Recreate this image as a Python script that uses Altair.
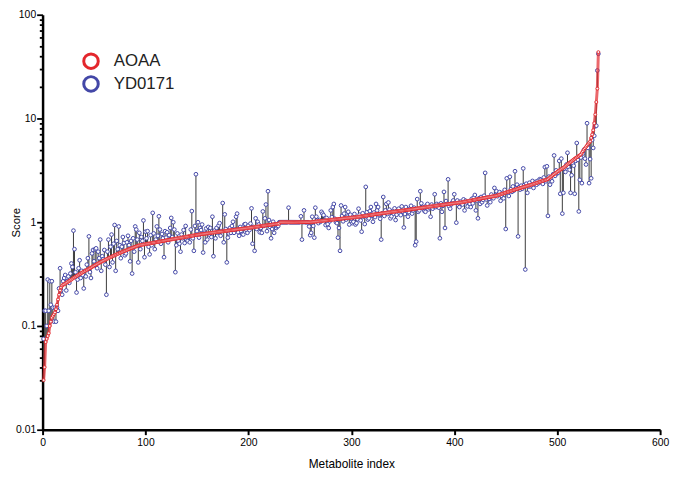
import altair as alt
import pandas as pd

# AOAA scores (sorted), one per metabolite index 1..540
aoaa = [
    0.03, 0.04, 0.07, 0.075, 0.08, 0.085, 0.10, 0.11, 0.12, 0.125, 0.13, 0.135, 0.145, 0.16, 0.18, 0.20, 0.22, 0.235, 0.245, 0.25,
    0.252, 0.256, 0.26, 0.264, 0.268, 0.272, 0.276, 0.28, 0.285, 0.29, 0.294, 0.298, 0.303, 0.307, 0.312, 0.316, 0.32, 0.325, 0.329, 0.334,
    0.338, 0.343, 0.347, 0.351, 0.356, 0.36, 0.365, 0.37, 0.375, 0.38, 0.385, 0.39, 0.395, 0.40, 0.405, 0.41, 0.415, 0.42, 0.425, 0.43,
    0.435, 0.44, 0.445, 0.45, 0.455, 0.46, 0.465, 0.47, 0.475, 0.48, 0.485, 0.49, 0.495, 0.50, 0.505, 0.51, 0.515, 0.52, 0.525, 0.53,
    0.535, 0.54, 0.545, 0.55, 0.555, 0.56, 0.565, 0.57, 0.575, 0.58, 0.585, 0.59, 0.595, 0.60, 0.602, 0.605, 0.607, 0.61, 0.612, 0.615,
    0.617, 0.62, 0.622, 0.625, 0.627, 0.63, 0.632, 0.635, 0.637, 0.64, 0.643, 0.646, 0.648, 0.651, 0.654, 0.657, 0.66, 0.662, 0.665, 0.668,
    0.671, 0.674, 0.676, 0.679, 0.682, 0.685, 0.688, 0.69, 0.693, 0.696, 0.699, 0.702, 0.704, 0.707, 0.71, 0.713, 0.716, 0.719, 0.722, 0.725,
    0.728, 0.731, 0.734, 0.737, 0.74, 0.743, 0.746, 0.749, 0.752, 0.755, 0.758, 0.76, 0.762, 0.765, 0.767, 0.77, 0.772, 0.775, 0.777, 0.78,
    0.782, 0.785, 0.787, 0.79, 0.792, 0.795, 0.797, 0.80, 0.802, 0.805, 0.807, 0.81, 0.812, 0.815, 0.817, 0.82, 0.822, 0.825, 0.827, 0.83,
    0.832, 0.835, 0.837, 0.84, 0.842, 0.845, 0.847, 0.85, 0.852, 0.855, 0.857, 0.86, 0.862, 0.865, 0.867, 0.87, 0.872, 0.875, 0.877, 0.88,
    0.883, 0.886, 0.889, 0.892, 0.895, 0.898, 0.901, 0.904, 0.907, 0.91, 0.913, 0.916, 0.919, 0.922, 0.925, 0.928, 0.931, 0.934, 0.937, 0.94,
    0.943, 0.946, 0.949, 0.952, 0.955, 0.958, 0.961, 0.964, 0.967, 0.97, 1, 1, 1, 1, 1, 1, 1, 1, 1, 1,
    1, 1, 1, 1, 1, 1, 1, 1, 1, 1, 1, 1, 1, 1, 1, 1, 1, 1, 1, 1,
    1.003, 1.005, 1.008, 1.011, 1.013, 1.016, 1.019, 1.021, 1.024, 1.027, 1.029, 1.032, 1.035, 1.037, 1.04, 1.043, 1.045, 1.048, 1.051, 1.053,
    1.056, 1.059, 1.061, 1.064, 1.067, 1.069, 1.072, 1.075, 1.077, 1.08, 1.083, 1.085, 1.088, 1.091, 1.093, 1.096, 1.099, 1.101, 1.104, 1.107,
    1.109, 1.112, 1.115, 1.117, 1.12, 1.124, 1.128, 1.132, 1.136, 1.14, 1.144, 1.147, 1.151, 1.155, 1.159, 1.163, 1.167, 1.171, 1.175, 1.179,
    1.183, 1.187, 1.191, 1.195, 1.199, 1.203, 1.206, 1.21, 1.214, 1.218, 1.222, 1.226, 1.23, 1.234, 1.238, 1.242, 1.246, 1.25, 1.254, 1.258,
    1.261, 1.265, 1.269, 1.273, 1.277, 1.281, 1.285, 1.289, 1.293, 1.297, 1.301, 1.305, 1.309, 1.313, 1.316, 1.32, 1.325, 1.329, 1.334, 1.338,
    1.343, 1.348, 1.352, 1.357, 1.362, 1.366, 1.371, 1.375, 1.38, 1.385, 1.389, 1.394, 1.398, 1.403, 1.408, 1.412, 1.417, 1.422, 1.426, 1.431,
    1.435, 1.44, 1.445, 1.449, 1.454, 1.458, 1.463, 1.468, 1.472, 1.477, 1.482, 1.486, 1.491, 1.495, 1.5, 1.505, 1.509, 1.514, 1.518, 1.523,
    1.528, 1.532, 1.537, 1.542, 1.546, 1.551, 1.555, 1.56, 1.567, 1.575, 1.582, 1.589, 1.596, 1.604, 1.611, 1.618, 1.625, 1.633, 1.64, 1.647,
    1.655, 1.662, 1.669, 1.676, 1.684, 1.691, 1.698, 1.705, 1.713, 1.72, 1.727, 1.735, 1.742, 1.749, 1.756, 1.764, 1.771, 1.778, 1.785, 1.793,
    1.80, 1.814, 1.829, 1.843, 1.858, 1.872, 1.887, 1.901, 1.916, 1.93, 1.944, 1.959, 1.973, 1.988, 2.002, 2.017, 2.031, 2.046, 2.06, 2.075,
    2.09, 2.105, 2.12, 2.135, 2.15, 2.165, 2.18, 2.195, 2.21, 2.225, 2.24, 2.255, 2.27, 2.285, 2.30, 2.319, 2.338, 2.356, 2.375, 2.394,
    2.413, 2.431, 2.45, 2.469, 2.488, 2.506, 2.525, 2.544, 2.563, 2.581, 2.60, 2.65, 2.70, 2.75, 2.80, 2.85, 2.90, 2.95, 3.0, 3.05,
    3.1, 3.15, 3.2, 3.25, 3.3, 3.35, 3.4, 3.47, 3.54, 3.61, 3.68, 3.74, 3.81, 3.88, 3.95, 4.02, 4.09, 4.16, 4.23, 4.29,
    4.36, 4.43, 4.5, 4.67, 4.83, 5.0, 5.17, 5.33, 5.5, 5.67, 5.83, 6.0, 6.5, 7.0, 7.7, 9.0, 10.9, 14.4, 19.4, 43.6,
]

# YD0171 scores for the same metabolites
yd0171 = [
    0.075, 0.14, 0.14, 0.10, 0.28, 0.14, 0.27, 0.16, 0.27, 0.15, 0.11, 0.15, 0.11, 0.15, 0.14, 0.23, 0.36, 0.22, 0.20, 0.27,
    0.29, 0.31, 0.22, 0.27, 0.30, 0.26, 0.32, 0.40, 0.37, 0.83, 0.55, 0.33, 0.21, 0.28, 0.36, 0.43, 0.29, 0.34, 0.31, 0.23,
    0.34, 0.30, 0.39, 0.45, 0.73, 0.33, 0.29, 0.50, 0.54, 0.42, 0.55, 0.56, 0.36, 0.52, 0.45, 0.68, 0.34, 0.47, 0.44, 0.54,
    0.39, 0.20, 0.52, 0.68, 0.37, 0.58, 0.76, 0.41, 0.62, 0.94, 0.34, 0.66, 0.55, 0.91, 0.60, 0.45, 0.58, 0.72, 0.63, 0.48,
    0.50, 0.64, 0.74, 0.60, 0.42, 0.66, 0.32, 0.70, 0.52, 0.91, 0.85, 0.68, 0.41, 0.79, 0.55, 0.72, 0.66, 1.04, 0.46, 0.81,
    0.70, 0.82, 0.58, 0.49, 0.75, 0.60, 1.23, 0.78, 0.55, 0.68, 0.91, 0.74, 1.14, 0.85, 0.62, 0.77, 0.70, 0.46, 0.82, 0.71,
    0.80, 0.64, 0.75, 0.88, 1.10, 0.72, 1.00, 0.85, 0.33, 0.60, 0.78, 0.66, 0.62, 0.52, 0.76, 0.70, 0.84, 0.63, 0.92, 0.68,
    0.66, 0.72, 0.64, 0.85, 1.28, 0.70, 0.53, 0.92, 2.9, 0.82, 1.0, 0.71, 0.88, 0.84, 0.95, 0.51, 0.79, 0.64, 0.87, 0.68,
    0.90, 0.76, 0.88, 0.72, 1.13, 0.47, 0.83, 0.70, 0.88, 0.79, 0.93, 0.98, 0.74, 0.82, 1.53, 0.64, 1.19, 0.86, 0.41, 0.71,
    0.78, 0.88, 0.79, 0.92, 1.01, 0.79, 0.85, 1.13, 1.21, 0.80, 0.74, 0.90, 0.82, 0.77, 0.76, 0.95, 0.96, 0.84, 0.79, 0.93,
    0.84, 0.97, 1.36, 0.62, 0.90, 0.53, 1.09, 0.86, 1.01, 0.95, 0.80, 0.88, 0.79, 1.27, 0.92, 1.09, 1.48, 0.82, 1.99, 1.05,
    0.90, 0.70, 0.86, 1.01, 0.79, 0.95, 0.88, 0.91, 0.92, 1, 1, 1, 1, 1, 1, 1, 1, 1, 1.38, 1,
    1, 1, 1, 1, 1, 1, 1, 1, 1, 1, 1.14, 0.68, 1, 1.30, 1, 1, 1, 1, 0.91, 0.75,
    0.79, 1.13, 0.92, 0.71, 1.38, 1.13, 1.05, 0.98, 1.05, 1.01, 1.26, 1.21, 1.17, 1.05, 0.94, 1.10, 0.96, 0.88, 1.02, 1.30,
    1.12, 1.40, 1.50, 1.08, 1.00, 0.98, 0.71, 0.88, 0.53, 1.45, 1.15, 1.02, 1.21, 1.40, 1.06, 1.13, 1.26, 0.95, 1.18, 1.08,
    0.98, 1.01, 1.20, 0.95, 0.98, 1.07, 1.35, 1.18, 1.04, 0.81, 1.22, 1.13, 0.96, 2.19, 1.25, 1.06, 1.09, 1.28, 1.40, 1.15,
    1.01, 1.24, 1.12, 1.50, 1.30, 1.40, 1.17, 1.08, 0.68, 1.22, 1.75, 1.15, 1.30, 1.50, 1.20, 1.55, 1.32, 1.09, 1.14, 1.28,
    1.21, 1.36, 1.05, 1.18, 1.30, 1.35, 1.22, 1.17, 1.42, 1.26, 0.89, 1.20, 1.40, 1.31, 1.13, 1.25, 1.35, 1.44, 1.21, 1.30,
    1.38, 0.60, 0.65, 1.67, 1.26, 1.30, 1.99, 1.52, 1.40, 1.35, 1.28, 1.26, 1.45, 1.50, 1.33, 1.38, 1.13, 1.48, 1.35, 1.42,
    1.86, 1.40, 1.50, 1.45, 1.38, 0.70, 1.52, 1.26, 1.44, 1.96, 0.88, 1.60, 1.50, 2.59, 1.42, 1.35, 1.48, 1.55, 1.62, 1.86,
    1.55, 0.99, 1.62, 1.45, 1.40, 1.58, 1.50, 1.48, 1.66, 1.30, 1.61, 1.55, 1.42, 1.58, 1.50, 1.40, 1.68, 1.52, 1.73, 1.83,
    1.30, 1.62, 1.09, 1.70, 1.50, 1.75, 1.56, 1.64, 1.80, 2.99, 1.66, 1.45, 1.72, 1.68, 1.56, 1.85, 1.73, 1.70, 2.14, 1.82,
    1.99, 1.78, 1.86, 1.95, 1.61, 1.80, 1.92, 1.70, 2.05, 0.86, 2.65, 1.90, 1.79, 2.74, 2.08, 1.96, 2.21, 2.02, 3.1, 2.12,
    2.30, 0.73, 2.18, 2.06, 2.25, 2.10, 3.3, 2.28, 0.35, 2.35, 1.92, 2.20, 2.40, 2.21, 2.26, 2.50, 2.14, 2.32, 2.45, 2.30,
    2.50, 2.38, 2.60, 2.56, 2.42, 2.34, 2.70, 3.4, 2.48, 3.46, 1.15, 2.75, 2.30, 2.62, 2.48, 2.90, 4.4, 2.80, 3.16, 2.95,
    3.0, 3.9, 1.88, 4.1, 1.21, 1.92, 3.3, 3.05, 3.6, 4.67, 3.4, 3.2, 1.92, 2.84, 3.7, 3.5, 1.88, 3.9, 5.8, 4.0,
    1.27, 2.56, 4.2, 2.38, 4.6, 5.0, 4.1, 3.6, 9.0, 5.2, 2.38, 4.06, 2.65, 6.2, 5.2, 6.8, 8.4, 8.5, 29, 42,
]

metabolite_index = list(range(1, len(aoaa) + 1))
series_names = ["AOAA", "YD0171"]
series_colors = ["#e3262c", "#4347a7"]
x_ticks = [0, 100, 200, 300, 400, 500, 600]
y_ticks = [
    0.01, 0.02, 0.03, 0.04, 0.05, 0.06, 0.07, 0.08, 0.09,
    0.1, 0.2, 0.3, 0.4, 0.5, 0.6, 0.7, 0.8, 0.9,
    1, 2, 3, 4, 5, 6, 7, 8, 9,
    10, 20, 30, 40, 50, 60, 70, 80, 90, 100,
]

wide = pd.DataFrame({"index": metabolite_index, "AOAA": aoaa, "YD0171": yd0171})
long = wide.melt("index", var_name="series", value_name="score")

FONT = "Liberation Sans"
major_test = "abs(log(datum.value)/LN10 - round(log(datum.value)/LN10)) < 0.01"

x_enc = alt.X(
    "index:Q",
    scale=alt.Scale(domain=[0, 600], nice=False, zero=False),
    axis=alt.Axis(
        values=x_ticks, format="d", title="Metabolite index",
        tickSize=5, tickWidth=2, tickColor="black",
        domainWidth=2.5, domainColor="black",
        labelFontSize=10.5, labelFont=FONT, labelColor="black", labelPadding=3,
        labelFlush=False, grid=False,
        titleFontSize=12, titleFont=FONT, titleFontWeight="normal", titleColor="black",
        titleBaseline="alphabetic", titleY=38,
    ),
)

y_scale = alt.Scale(type="log", domain=[0.01, 100], nice=False)
y_axis = alt.Axis(
    values=y_ticks, format="~g",
    labelExpr=major_test + " ? datum.label : ''",
    tickSize={"condition": {"test": major_test, "value": 6}, "value": 3.3},
    tickWidth=1.8, tickColor="black",
    domainWidth=2.5, domainColor="black",
    labelFontSize=10.5, labelFont=FONT, labelColor="black", labelPadding=1,
    labelOverlap=False, labelFlush=False, grid=False,
    title="Score", titleFontSize=11.5, titleFont=FONT, titleFontWeight="normal",
    titleColor="black", titleX=-21,
)

legend = alt.Legend(
    orient="none", legendX=40, legendY=38, title=None,
    symbolType="circle", symbolSize=216, symbolStrokeWidth=3,
    symbolFillColor="white",
    labelFontSize=17, labelFont=FONT, labelColor="#222222", labelOffset=14,
    rowPadding=-6, padding=0,
)
color_enc = alt.Color(
    "series:N",
    scale=alt.Scale(domain=series_names, range=series_colors),
    legend=legend,
)

base = alt.Chart(wide)

rules = base.mark_rule(color="#3a3a3a", strokeWidth=1).encode(
    x=x_enc,
    y=alt.Y("AOAA:Q", scale=y_scale, axis=y_axis),
    y2="YD0171:Q",
)

blue_pts = alt.Chart(long).transform_filter("datum.series == 'YD0171'").mark_point(
    filled=False, fill="white", size=14, strokeWidth=1, opacity=1
).encode(
    x=x_enc,
    y=alt.Y("score:Q", scale=y_scale, axis=y_axis),
    color=color_enc,
)

red_line = base.mark_line(color="#e3262c", strokeWidth=3, opacity=0.7).encode(
    x=x_enc,
    y=alt.Y("AOAA:Q", scale=y_scale, axis=y_axis),
)

red_pts = alt.Chart(long).transform_filter("datum.series == 'AOAA'").mark_point(
    filled=False, fill="white", size=9, strokeWidth=1, opacity=0.9
).encode(
    x=x_enc,
    y=alt.Y("score:Q", scale=y_scale, axis=y_axis),
    color=color_enc,
)

chart = alt.layer(rules, blue_pts, red_line, red_pts).properties(
    width=625,
    height=420,
    autosize=alt.AutoSizeParams(type="none"),
    padding={"left": 35, "top": 4, "right": 10, "bottom": 40},
    background="white",
).configure_view(stroke=None)

chart.save("out.html", embed_options={"renderer": "svg", "actions": False})
